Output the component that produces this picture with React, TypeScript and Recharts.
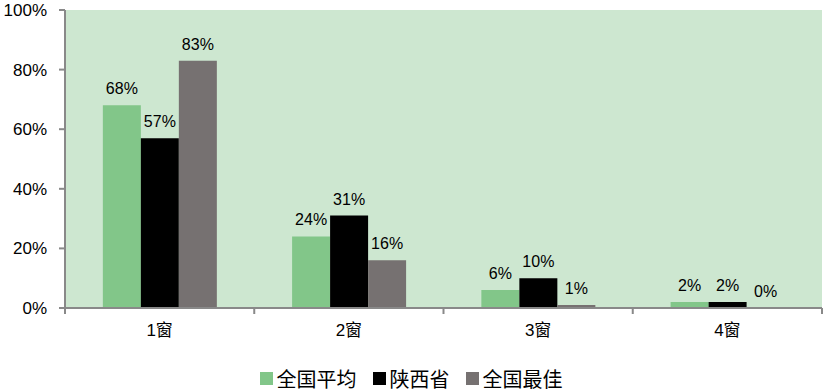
import React from "react";
import { Bar, BarChart, LabelList, Legend, XAxis, YAxis } from "recharts";

const categories = ["1窗", "2窗", "3窗", "4窗"];
const nationalAvg = [68, 24, 6, 2];
const shaanxi = [57, 31, 10, 2];
const nationalBest = [83, 16, 1, 0];
const yTicks = [0, 20, 40, 60, 80, 100];

const series = [
  { key: "avg", name: "全国平均", color: "#82c689", values: nationalAvg },
  { key: "sx", name: "陕西省", color: "#000000", values: shaanxi },
  { key: "best", name: "全国最佳", color: "#767171", values: nationalBest },
];

const data = categories.map((name, i) => ({
  name,
  avg: nationalAvg[i],
  sx: shaanxi[i],
  best: nationalBest[i],
}));

const W = 827;
const H = 390;
const LEFT = 65;
const RIGHT = 5;
const TOP = 10;
const BOTTOM = 3;
const XH = 50;
const LEG_H = 29;
const FONT = "'Liberation Sans', 'Noto Sans CJK SC', sans-serif";
const AXIS = "#898989";

function CatTick(props: any) {
  const { x, y, payload, index } = props;
  const half = (W - LEFT - RIGHT) / categories.length / 2;
  return (
    <g>
      <line x1={x - half} x2={x - half} y1={y - 8} y2={y - 2} stroke={AXIS} strokeWidth={2} />
      {index === categories.length - 1 && (
        <line x1={x + half} x2={x + half} y1={y - 8} y2={y - 2} stroke={AXIS} strokeWidth={2} />
      )}
      <text x={x} y={y + 20} textAnchor="middle" fontSize={17} fill="#000" fontFamily={FONT}>
        {payload.value}
      </text>
    </g>
  );
}

function LegendBox() {
  return (
    <div
      style={{
        display: "flex",
        justifyContent: "center",
        gap: 16,
        paddingTop: 6,
        fontFamily: FONT,
        fontSize: 20,
        color: "#000",
      }}
    >
      {series.map((s) => (
        <span key={s.key} style={{ display: "inline-flex", alignItems: "center", gap: 4 }}>
          <span style={{ width: 13, height: 13, background: s.color, display: "inline-block" }} />
          {s.name}
        </span>
      ))}
    </div>
  );
}

const pct = (v: any) => `${v}%`;

export default function App() {
  const plotH = H - TOP - BOTTOM - XH - LEG_H;
  return (
    <div style={{ position: "absolute", left: 0, top: 0, width: W, height: H, background: "#fff" }}>
      <BarChart
        width={W}
        height={H}
        data={data}
        margin={{ top: TOP, right: RIGHT, left: 0, bottom: BOTTOM }}
        barCategoryGap="20%"
        barGap={0}
      >
        <XAxis
          dataKey="name"
          axisLine={{ stroke: AXIS, strokeWidth: 2 }}
          tickLine={false}
          tick={<CatTick />}
          height={XH}
          interval={0}
        />
        <YAxis
          width={LEFT}
          domain={[0, 100]}
          ticks={yTicks}
          tickFormatter={pct}
          axisLine={{ stroke: AXIS, strokeWidth: 2 }}
          tickLine={{ stroke: AXIS, strokeWidth: 2 }}
          tickSize={6}
          tickMargin={12}
          tick={{ fontSize: 17, fill: "#000", fontFamily: FONT }}
        />
        <rect x={LEFT} y={TOP} width={W - LEFT - RIGHT} height={plotH} fill="#cde7d0" />
        <Legend verticalAlign="bottom" height={LEG_H} content={<LegendBox />} />
        {series.map((s) => (
          <Bar
            key={s.key}
            dataKey={s.key}
            name={s.name}
            fill={s.color}
            isAnimationActive={false}
            minPointSize={(v: number) => (v === 0 ? 0.01 : 0)}
          >
            <LabelList
              dataKey={s.key}
              position="top"
              offset={11}
              formatter={pct}
              fill="#000"
              fontSize={16}
              fontFamily={FONT}
            />
          </Bar>
        ))}
      </BarChart>
    </div>
  );
}
